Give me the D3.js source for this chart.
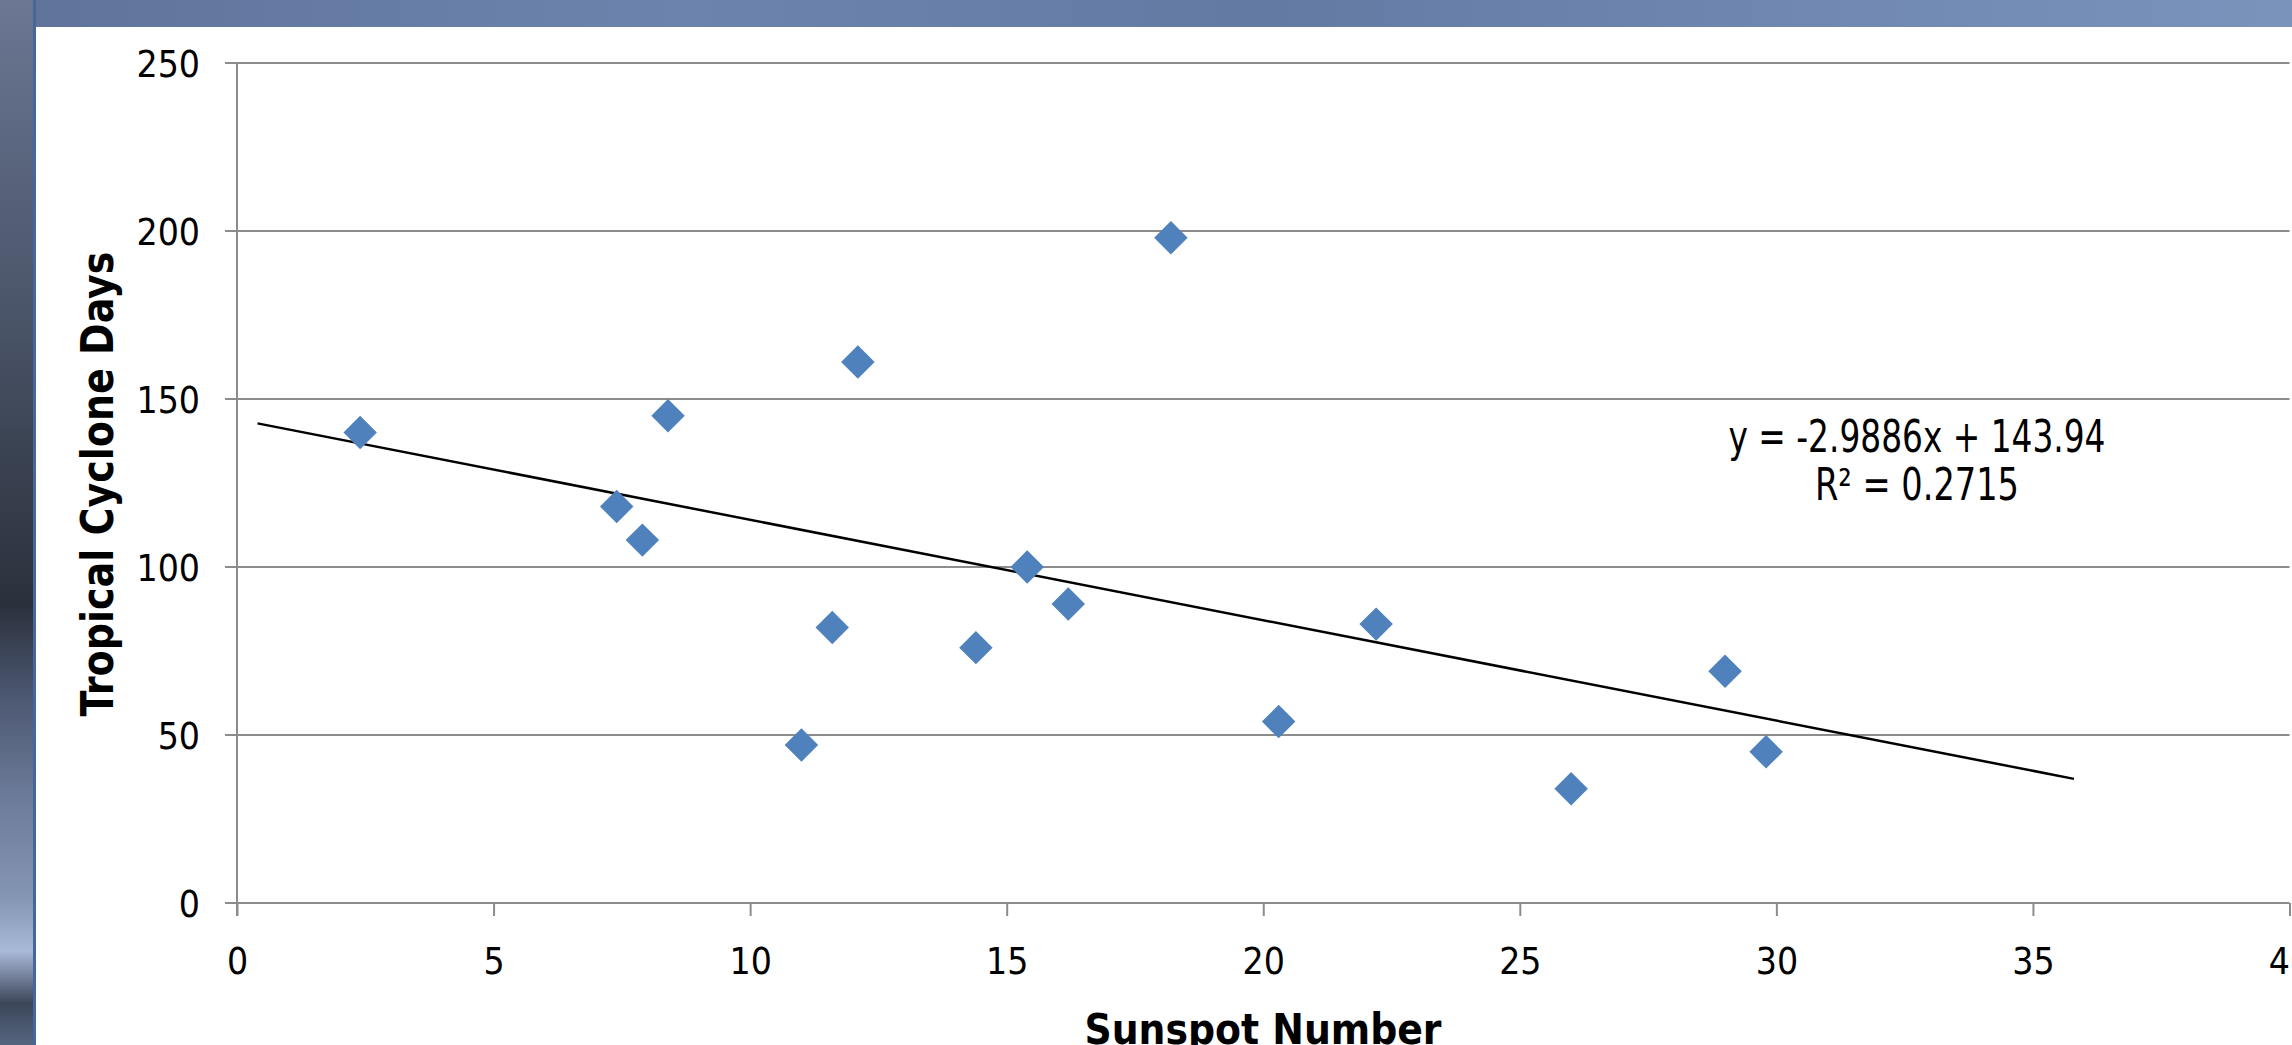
<!DOCTYPE html>
<html>
<head>
<meta charset="utf-8">
<script src="https://cdn.jsdelivr.net/npm/d3@7"></script>
<style>
    body { margin: 0; overflow: hidden; background: #ffffff; }
    svg { display: block; }
</style>
</head>
<body>
<svg id="chart"></svg>
<script>
// values
var sunspots = [2.4, 7.4, 7.9, 8.4, 11.0, 11.6, 12.1, 14.4, 15.4, 16.2, 18.2, 20.3, 22.2, 26.0, 29.0, 29.8]
var cycloneDays = [140, 118, 108, 145, 47, 82, 161, 76, 100, 89, 198, 54, 83, 34, 69, 45]
var xTicks = [0, 5, 10, 15, 20, 25, 30, 35, 40]
var yTicks = [0, 50, 100, 150, 200, 250]
var trendSlope = -2.9886
var trendIntercept = 143.94
var trendFrom = [0.4, 35.8]
var equationLines = ["y = -2.9886x + 143.94", "R\u00B2 = 0.2715"]
var xTitle = "Sunspot Number"
var yTitle = "Tropical Cyclone Days"

var dimensions = {
    width: 2292,
    height: 1045,
    margin: {
        top: 63,
        bottom: 142,
        right: 2,
        left: 237
    }
}

var font = "'DejaVu Sans Condensed', 'DejaVu Sans', sans-serif"
var gridColor = "#8c8c8c"

var svg = d3.select("#chart")
    .attr("width", dimensions.width)
    .attr("height", dimensions.height)

// slide background: cloudy strip on the left, blue band on top
var defs = svg.append("defs")
var sideGrad = defs.append("linearGradient")
    .attr("id", "side").attr("x1", 0).attr("y1", 0).attr("x2", 0).attr("y2", 1)
var sideStops = [[0, "#6c7893"], [0.12, "#5d6882"], [0.3, "#4b5569"], [0.45, "#394150"],
    [0.58, "#2b313c"], [0.66, "#4a556e"], [0.76, "#6b7a98"], [0.86, "#8595b4"],
    [0.91, "#a9b9d8"], [0.96, "#3c4659"], [1, "#55657f"]]
sideStops.forEach(function (s) {
    sideGrad.append("stop").attr("offset", s[0]).attr("stop-color", s[1])
})
var topGrad = defs.append("linearGradient")
    .attr("id", "topband").attr("x1", 0).attr("y1", 0).attr("x2", 1).attr("y2", 0)
var topStops = [[0, "#5f7399"], [0.3, "#6c84ad"], [0.55, "#637aa3"], [0.8, "#7189b2"], [1, "#7a93bb"]]
topStops.forEach(function (s) {
    topGrad.append("stop").attr("offset", s[0]).attr("stop-color", s[1])
})

svg.append("rect")
    .attr("x", 0).attr("y", 0)
    .attr("width", dimensions.width).attr("height", 27)
    .attr("fill", "url(#topband)")
svg.append("rect")
    .attr("x", 0).attr("y", 0)
    .attr("width", 34).attr("height", dimensions.height)
    .attr("fill", "url(#side)")
svg.append("rect")
    .attr("x", 33).attr("y", 0)
    .attr("width", 3).attr("height", dimensions.height)
    .attr("fill", "#46679a")

var xScale = d3.scaleLinear()
    .domain([0, 40])
    .range([dimensions.margin.left, dimensions.width - dimensions.margin.right - 0.5])

var yScale = d3.scaleLinear()
    .domain([0, 250])
    .range([dimensions.height - dimensions.margin.bottom, dimensions.margin.top])

// horizontal gridlines
svg.append("g")
    .selectAll("line")
    .data(yTicks)
    .enter()
    .append("line")
    .attr("x1", xScale(0) - 12)
    .attr("x2", xScale(40))
    .attr("y1", d => yScale(d))
    .attr("y2", d => yScale(d))
    .attr("stroke", gridColor)
    .attr("stroke-width", 2)

// y axis
var yAxis = d3.axisLeft(yScale)
    .tickValues(yTicks)
    .tickSize(0)
    .tickPadding(37)

var yAxisG = svg.append("g")
    .attr("transform", "translate(" + dimensions.margin.left + ",0)")
    .call(yAxis)
yAxisG.select(".domain").remove()
yAxisG.selectAll("text")
    .attr("dy", "0.36em")
    .attr("font-size", "37px")
    .attr("font-family", font)
    .attr("fill", "#000")

svg.append("line")
    .attr("x1", xScale(0)).attr("x2", xScale(0))
    .attr("y1", yScale(250)).attr("y2", yScale(0) + 13)
    .attr("stroke", gridColor)
    .attr("stroke-width", 2)

// x axis
var xAxis = d3.axisBottom(xScale)
    .tickValues(xTicks)
    .tickSize(13)
    .tickSizeOuter(0)
    .tickPadding(32)

var xAxisG = svg.append("g")
    .attr("transform", "translate(0," + yScale(0) + ")")
    .call(xAxis)
xAxisG.select(".domain").remove()
xAxisG.selectAll(".tick line")
    .attr("stroke", gridColor)
    .attr("stroke-width", 2)
xAxisG.selectAll("text")
    .attr("font-size", "37px")
    .attr("font-family", font)
    .attr("fill", "#000")

// trendline
var trendLine = d3.line()
    .x(d => xScale(d))
    .y(d => yScale(trendSlope * d + trendIntercept))

svg.append("path")
    .datum(trendFrom)
    .attr("d", trendLine)
    .attr("fill", "none")
    .attr("stroke", "#000")
    .attr("stroke-width", 2.5)

// points
var points = sunspots.map(function (s, i) {
    return { x: s, y: cycloneDays[i] }
})

svg.append("g")
    .selectAll("path")
    .data(points)
    .enter()
    .append("path")
    .attr("d", d3.symbol(d3.symbolSquare, 560))
    .attr("transform", d => "translate(" + xScale(d.x) + "," + yScale(d.y) + ") rotate(45)")
    .attr("fill", "#4f81bd")

// trendline equation
svg.append("g")
    .selectAll("text")
    .data(equationLines)
    .enter()
    .append("text")
    .attr("x", 1917)
    .attr("y", (d, i) => 452 + i * 48)
    .attr("text-anchor", "middle")
    .attr("font-size", "44px")
    .attr("font-family", font)
    .attr("textLength", (d, i) => i === 0 ? 377 : 204)
    .attr("lengthAdjust", "spacingAndGlyphs")
    .text(d => d)

// axis titles
svg.append("text")
    .attr("x", 1263)
    .attr("y", 1044)
    .attr("text-anchor", "middle")
    .attr("font-size", "42px")
    .attr("font-weight", "bold")
    .attr("font-family", font)
    .attr("textLength", 357)
    .attr("lengthAdjust", "spacingAndGlyphs")
    .text(xTitle)

svg.append("text")
    .attr("transform", "translate(113,484) rotate(-90)")
    .attr("text-anchor", "middle")
    .attr("font-size", "44px")
    .attr("font-weight", "bold")
    .attr("font-family", font)
    .attr("textLength", 465)
    .attr("lengthAdjust", "spacingAndGlyphs")
    .text(yTitle)
</script>
</body>
</html>
